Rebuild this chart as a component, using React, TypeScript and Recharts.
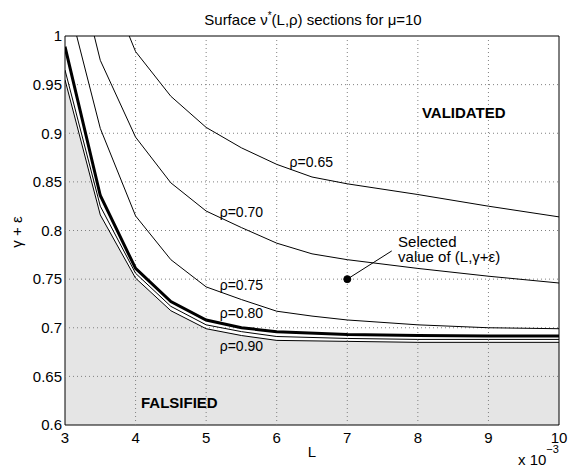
import React from 'react';
import {
  ComposedChart,
  Line,
  Area,
  XAxis,
  YAxis,
  ReferenceDot,
  ReferenceArea,
  ReferenceLine,
} from 'recharts';

// ---- data (L in units of 1e-3, value = gamma + epsilon) ----
const L_RHO065 = [3.91, 4, 4.5, 5, 5.5, 6, 6.5, 7, 8, 9, 10];
const V_RHO065 = [1.0, 0.984, 0.938, 0.906, 0.885, 0.868, 0.855, 0.848, 0.837, 0.825, 0.814];

const L_RHO070 = [3.415, 3.5, 4, 4.5, 5, 5.5, 6, 6.5, 7, 8, 9, 10];
const V_RHO070 = [1.0, 0.975, 0.896, 0.849, 0.82, 0.803, 0.787, 0.776, 0.77, 0.761, 0.753, 0.746];

const L_RHO075 = [3.166, 3.5, 4, 4.5, 5, 5.5, 6, 6.5, 7, 8, 9, 10];
const V_RHO075 = [1.0, 0.905, 0.815, 0.77, 0.742, 0.729, 0.717, 0.712, 0.708, 0.703, 0.7, 0.699];

const L_LOW = [3, 3.5, 4, 4.5, 5, 5.5, 6, 7, 8, 9, 10];
const V_RHO080 = [0.989, 0.836, 0.761, 0.727, 0.708, 0.7, 0.696, 0.693, 0.692, 0.6915, 0.6915];
const V_RHO085 = [0.965, 0.825, 0.756, 0.722, 0.703, 0.696, 0.691, 0.689, 0.688, 0.688, 0.688];
const V_RHO090 = [0.955, 0.816, 0.751, 0.7175, 0.699, 0.692, 0.687, 0.686, 0.685, 0.685, 0.685];

const X_DOMAIN = [3, 10];
const Y_DOMAIN = [0.6, 1];
const X_TICKS = [3, 4, 5, 6, 7, 8, 9, 10];
const Y_TICKS = [0.6, 0.65, 0.7, 0.75, 0.8, 0.85, 0.9, 0.95, 1];
const Y_TICK_LABELS = ['0.6', '0.65', '0.7', '0.75', '0.8', '0.85', '0.9', '0.95', '1'];
const X_GRID = [4, 5, 6, 7, 8, 9];
const Y_GRID = [0.65, 0.7, 0.75, 0.8, 0.85, 0.9, 0.95];

const SELECTED = { L: 7, v: 0.75 };
const POINTER_END = { L: 7.63, v: 0.779 };

const CURVE_LABELS = [
  { text: 'ρ=0.65', L: 6.49, v: 0.8655 },
  { text: 'ρ=0.70', L: 5.5, v: 0.814 },
  { text: 'ρ=0.75', L: 5.5, v: 0.739 },
  { text: 'ρ=0.80', L: 5.5, v: 0.7105 },
  { text: 'ρ=0.90', L: 5.5, v: 0.676 },
];

const REGION_LABELS = [
  { text: 'VALIDATED', L: 8.65, v: 0.9155 },
  { text: 'FALSIFIED', L: 4.62, v: 0.6175 },
];

const SEL_TEXT = [
  { text: 'Selected', L: 7.72, v: 0.783 },
  { text: 'value of (L,γ+ε)', L: 7.72, v: 0.768 },
];

const pts = (xs: number[], ys: number[]) => xs.map((x, i) => ({ L: x, v: ys[i] }));

const FONT = '"Liberation Sans", Arial, Helvetica, sans-serif';

const W = 572;
const H = 465;

const textShape = (txt: string, opts: { anchor?: string; size?: number; weight?: string }) =>
  (p: any) => (
    <text
      x={p.cx}
      y={p.cy}
      textAnchor={opts.anchor || 'start'}
      fontSize={opts.size || 15}
      fontWeight={opts.weight || 'normal'}
      fontFamily={FONT}
      fill="#000"
    >
      {txt}
    </text>
  );

export default function App() {
  return (
    <div style={{ position: 'absolute', left: 0, top: 0, width: W, height: H, background: '#fff' }}>
      <ComposedChart
        width={W}
        height={H}
        margin={{ top: 36, right: 13, bottom: 0, left: 5 }}
        style={{ fontFamily: FONT }}
      >
        <XAxis
          dataKey="L"
          type="number"
          domain={X_DOMAIN}
          ticks={X_TICKS}
          allowDataOverflow
          height={40}
          tickSize={0}
          tickMargin={7}
          axisLine={false}
          tick={{ fill: '#000', fontSize: 15, fontFamily: FONT }}
        />
        <YAxis
          type="number"
          domain={Y_DOMAIN}
          ticks={Y_TICKS}
          allowDataOverflow
          width={60}
          tickSize={0}
          tickMargin={3}
          axisLine={false}
          tickFormatter={(v: number) => Y_TICK_LABELS[Y_TICKS.indexOf(v)] ?? String(v)}
          tick={{ fill: '#000', fontSize: 15, fontFamily: FONT }}
        />
        <Area
          data={pts(L_LOW, V_RHO090)}
          dataKey="v"
          type="linear"
          fill="#e5e5e5"
          fillOpacity={1}
          stroke="none"
          baseValue={0.6}
          isAnimationActive={false}
        />
        {X_GRID.map((x) => (
          <ReferenceLine
            key={'gx' + x}
            segment={[
              { x, y: Y_DOMAIN[0] },
              { x, y: Y_DOMAIN[1] },
            ]}
            stroke="#808080"
            strokeWidth={1}
            strokeDasharray="1 3"
          />
        ))}
        {Y_GRID.map((y) => (
          <ReferenceLine
            key={'gy' + y}
            segment={[
              { x: X_DOMAIN[0], y },
              { x: X_DOMAIN[1], y },
            ]}
            stroke="#808080"
            strokeWidth={1}
            strokeDasharray="1 3"
          />
        ))}
        <Line data={pts(L_RHO065, V_RHO065)} dataKey="v" type="linear" stroke="#000" strokeWidth={1} dot={false} isAnimationActive={false} />
        <Line data={pts(L_RHO070, V_RHO070)} dataKey="v" type="linear" stroke="#000" strokeWidth={1} dot={false} isAnimationActive={false} />
        <Line data={pts(L_RHO075, V_RHO075)} dataKey="v" type="linear" stroke="#000" strokeWidth={1} dot={false} isAnimationActive={false} />
        <Line data={pts(L_LOW, V_RHO090)} dataKey="v" type="linear" stroke="#000" strokeWidth={1} dot={false} isAnimationActive={false} />
        <Line data={pts(L_LOW, V_RHO085)} dataKey="v" type="linear" stroke="#000" strokeWidth={1} dot={false} isAnimationActive={false} />
        <Line data={pts(L_LOW, V_RHO080)} dataKey="v" type="linear" stroke="#000" strokeWidth={3} dot={false} isAnimationActive={false} />
        <ReferenceArea x1={3} x2={10} y1={0.6} y2={1} fill="none" stroke="#000" strokeWidth={1} fillOpacity={0} />
        <ReferenceLine
          segment={[
            { x: SELECTED.L, y: SELECTED.v },
            { x: POINTER_END.L, y: POINTER_END.v },
          ]}
          stroke="#000"
          strokeWidth={1}
        />
        <ReferenceDot x={SELECTED.L} y={SELECTED.v} r={3.5} fill="#000" stroke="#000" />
        {CURVE_LABELS.map((c) => (
          <ReferenceDot key={c.text} x={c.L} y={c.v} r={0} shape={textShape(c.text, { anchor: 'middle', size: 14 })} />
        ))}
        {REGION_LABELS.map((c) => (
          <ReferenceDot key={c.text} x={c.L} y={c.v} r={0} shape={textShape(c.text, { anchor: 'middle', size: 15, weight: 'bold' })} />
        ))}
        {SEL_TEXT.map((c) => (
          <ReferenceDot key={c.text} x={c.L} y={c.v} r={0} shape={textShape(c.text, { anchor: 'start', size: 15 })} />
        ))}
      </ComposedChart>
      <svg
        width={W}
        height={H}
        style={{ position: 'absolute', left: 0, top: 0, pointerEvents: 'none' }}
        fontFamily={FONT}
      >
        <text x={313} y={25} textAnchor="middle" fontSize={15} fill="#000">
          Surface ν<tspan dy={-6} fontSize={10}>*</tspan>
          <tspan dy={6}>(L,ρ) sections for μ=10</tspan>
        </text>
        <text x={22} y={232} textAnchor="middle" fontSize={15} fill="#000" transform="rotate(-90 22 232)">
          γ + ε
        </text>
        <text x={312} y={457} textAnchor="middle" fontSize={15} fill="#000">
          L
        </text>
        <text x={518} y={465} fontSize={15} fill="#000">
          x 10<tspan dy={-12} fontSize={11}>−3</tspan>
        </text>
      </svg>
    </div>
  );
}
